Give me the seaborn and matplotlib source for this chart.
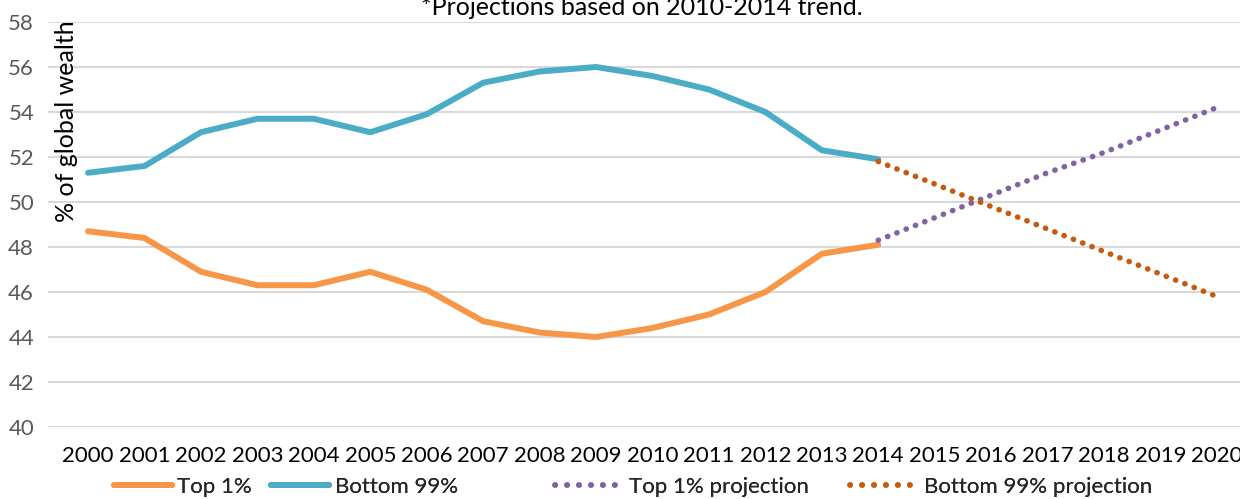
import matplotlib
matplotlib.use("Agg")
import matplotlib.pyplot as plt
import seaborn as sns
import pandas as pd
from matplotlib.lines import Line2D

# data
years = list(range(2000, 2021))
hist_years = list(range(2000, 2015))
proj_years = list(range(2014, 2021))

top1 = [48.7, 48.4, 46.9, 46.3, 46.3, 46.9, 46.1, 44.7, 44.2, 44.0, 44.4, 45.0, 46.0, 47.7, 48.1]
bottom99 = [51.3, 51.6, 53.1, 53.7, 53.7, 53.1, 53.9, 55.3, 55.8, 56.0, 55.6, 55.0, 54.0, 52.3, 51.9]
top1_proj = [48.3, 49.3, 50.3, 51.3, 52.2, 53.2, 54.2]
bottom99_proj = [51.8, 50.8, 49.8, 48.8, 47.8, 46.8, 45.8]

labels = ["Top 1%", "Bottom 99%", "Top 1% projection", "Bottom 99% projection"]
colors = ["#F79646", "#4BACC6", "#8064A2", "#C55A11"]

df_hist = pd.DataFrame({"year": hist_years, "Top 1%": top1, "Bottom 99%": bottom99})
df_proj = pd.DataFrame({"year": proj_years, "Top 1% projection": top1_proj,
                        "Bottom 99% projection": bottom99_proj})

sns.set_theme(style="white")
plt.rcParams["font.family"] = ["Lato", "DejaVu Sans"]

W, H = 1240, 499
fig = plt.figure(figsize=(12.4, 4.99), dpi=100)
ax = fig.add_axes([48 / W, 1 - 427 / H, 1 - 48 / W, (427 - 22) / H])

solid_lw = 4.3
dot_lw = 4.0
dot_style = (0, (0.05, 1.75))

sns.lineplot(data=df_hist, x="year", y="Top 1%", color=colors[0], lw=solid_lw,
             ax=ax, solid_capstyle="round", zorder=3)
sns.lineplot(data=df_hist, x="year", y="Bottom 99%", color=colors[1], lw=solid_lw,
             ax=ax, solid_capstyle="round", zorder=3)
sns.lineplot(data=df_proj, x="year", y="Top 1% projection", color=colors[2], lw=dot_lw,
             ax=ax, linestyle=dot_style, dash_capstyle="round", zorder=4)
sns.lineplot(data=df_proj, x="year", y="Bottom 99% projection", color=colors[3], lw=dot_lw,
             ax=ax, linestyle=dot_style, dash_capstyle="round", zorder=4)

ax.set_xlim(2000 - 0.71, 2000 + 20.41)
ax.set_ylim(40, 58)
ax.set_yticks(range(40, 59, 2))
ax.set_xticks(years)
ax.set_xticklabels([str(y) for y in years], fontsize=16, color="black")
ax.tick_params(axis="x", length=0, pad=14)
ax.tick_params(axis="y", length=0, pad=10, labelsize=16, labelcolor="#595959")
ax.yaxis.grid(True, color="#D9D9D9", lw=1.5)
ax.xaxis.grid(False)
for s in ax.spines.values():
    s.set_visible(False)
ax.set_xlabel("")
ax.set_ylabel("")

# y label sits inside the plot area
fig.text(67 / W, 1 - 121 / H, "% of global wealth", rotation=90,
         ha="center", va="center", fontsize=18, color="black")

# title is cropped at top of the image
fig.text(642 / W, 1 - 15 / H, "*Projections based on 2010-2014 trend.",
         ha="center", va="baseline", fontsize=18, color="black")

# legend entries placed one by one (uneven spacing in the reference)
legend_items = [
    (labels[0], Line2D([], [], color=colors[0], lw=solid_lw, solid_capstyle="round"), 114, 2.6, 0.25),
    (labels[1], Line2D([], [], color=colors[1], lw=solid_lw, solid_capstyle="round"), 271, 2.6, 0.3),
    (labels[2], Line2D([], [], color=colors[2], lw=dot_lw, linestyle=(0, (0.05, 2.1)),
                       dash_capstyle="round"), 555, 2.85, 0.5),
    (labels[3], Line2D([], [], color=colors[3], lw=dot_lw, linestyle=(0, (0.05, 2.1)),
                       dash_capstyle="round"), 850, 2.85, 0.5),
]
for text, handle, x0, hl, pad in legend_items:
    leg = fig.legend([handle], [text], loc="center left",
                     bbox_to_anchor=(x0 / W, 1 - 487 / H), frameon=False, fontsize=16,
                     handlelength=hl, handletextpad=pad, borderpad=0, borderaxespad=0)
    fig.add_artist(leg)

fig.savefig("out.png", dpi=100)
